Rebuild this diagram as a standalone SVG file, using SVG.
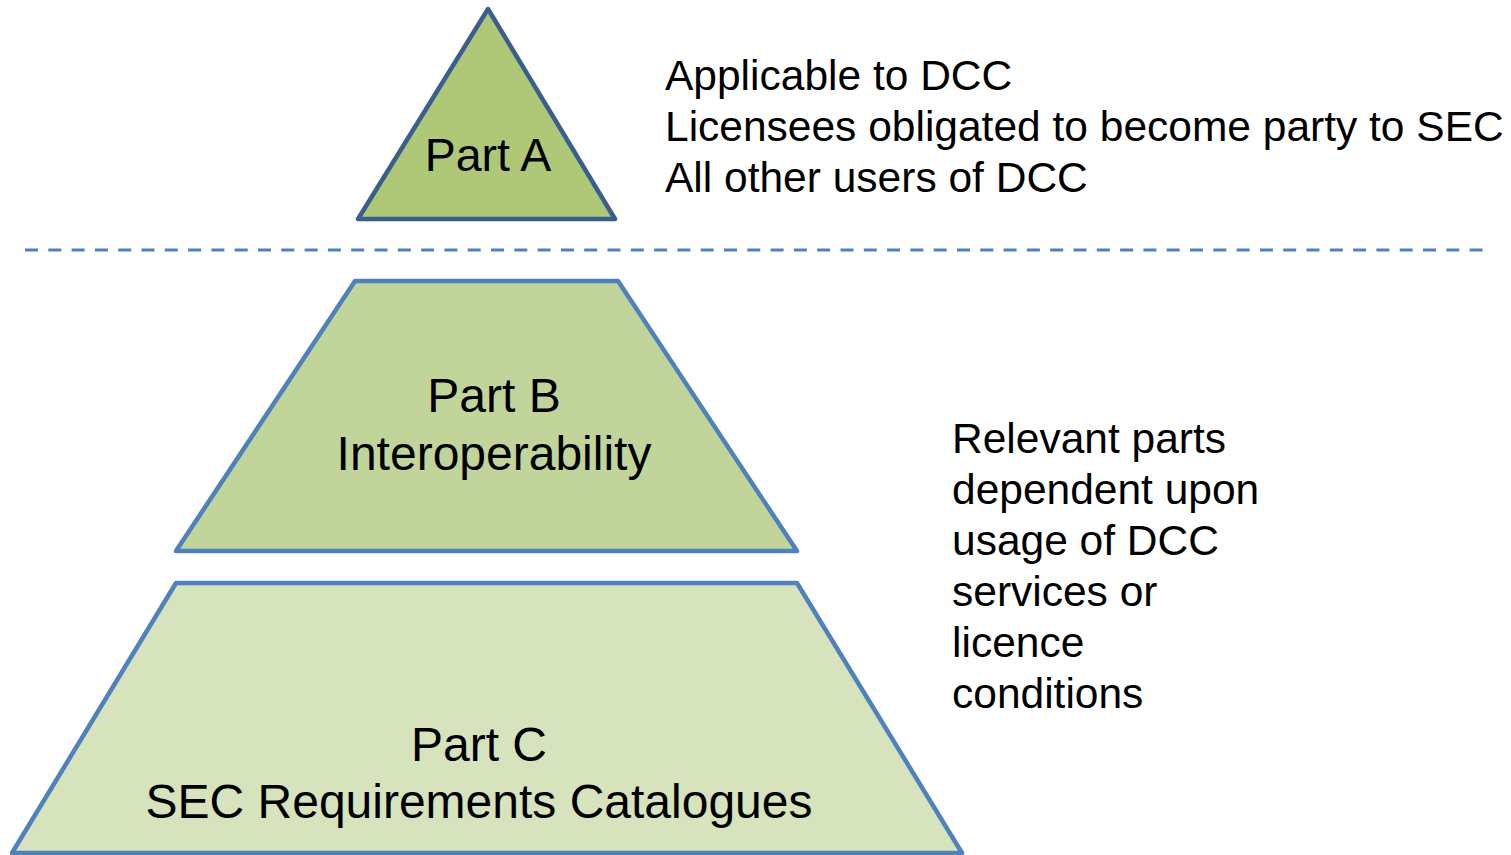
<svg xmlns="http://www.w3.org/2000/svg" width="1511" height="855" viewBox="0 0 1511 855">
<style>
text{font-family:"Liberation Sans",Arial,sans-serif;fill:#000}
.c{text-anchor:middle}
.big{font-size:48px}
.side{font-size:42.5px}
.shape{stroke-width:4.5;stroke-linejoin:round}
</style>
<rect width="1511" height="855" fill="#fff"/>
<g id="connectors">
<line x1="25" y1="250" x2="1486" y2="250" stroke="#4f81bd" stroke-width="3" stroke-dasharray="13 10.3"/>
</g>
<g id="partA">
<polygon class="shape" points="488,9 615,219 358,219" fill="#aec878" stroke="#3a5f8e"/>
<text class="c" x="488" y="171" font-size="46.5">Part A</text>
</g>
<g id="partB">
<polygon class="shape" points="355,281 618,281 797,551 176,551" fill="#c1d59b" stroke="#4f81bd"/>
<text class="c big" x="494" y="412">Part B</text>
<text class="c big" x="494" y="470">Interoperability</text>
</g>
<g id="partC">
<polygon class="shape" points="176,583 797,583 962,853 12,853" fill="#d7e3bd" stroke="#4f81bd"/>
<text class="c big" x="479" y="761">Part C</text>
<text class="c big" x="479" y="818">SEC Requirements Catalogues</text>
</g>
<g id="noteA">
<text class="side" x="665" y="90">Applicable to DCC</text>
<text class="side" x="665" y="141">Licensees obligated to become party to SEC</text>
<text class="side" x="665" y="192">All other users of DCC</text>
</g>
<g id="noteBC">
<text class="side" x="952" y="453">Relevant parts</text>
<text class="side" x="952" y="504">dependent upon</text>
<text class="side" x="952" y="555">usage of DCC</text>
<text class="side" x="952" y="606">services or</text>
<text class="side" x="952" y="657">licence</text>
<text class="side" x="952" y="708">conditions</text>
</g>
</svg>
